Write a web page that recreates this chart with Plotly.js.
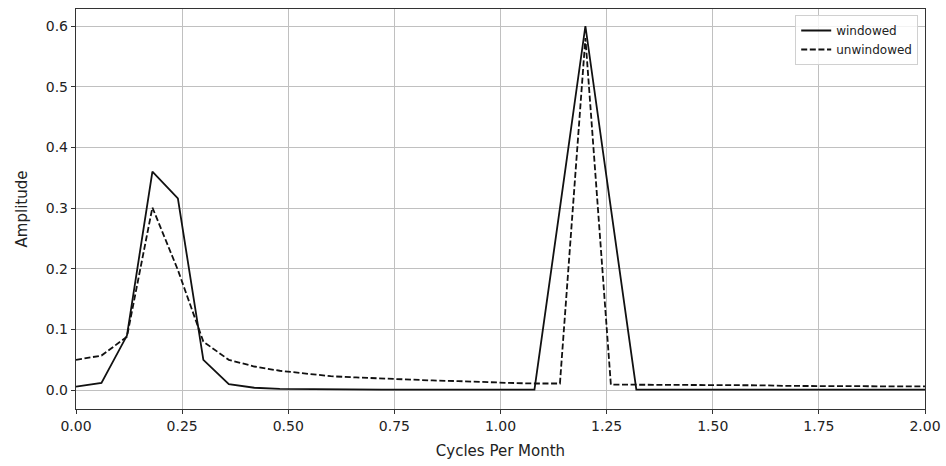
<!DOCTYPE html>
<html>
<head>
<meta charset="utf-8">
<script src="https://cdn.plot.ly/plotly-3.0.1.min.js"></script>
<style>html,body{margin:0;padding:0;background:#fff;}#chart{width:946px;height:466px;}</style>
</head>
<body>
<div id="chart"></div>
<script>
// Frequencies (cycles per month)
const freq = [0.00,0.06,0.12,0.18,0.24,0.30,0.36,0.42,0.48,0.54,0.60,0.66,0.72,0.78,0.84,0.90,0.96,1.02,1.08,1.14,1.20,1.26,1.32,1.38,1.44,1.50,1.56,1.62,1.68,1.74,1.80,1.86,1.92,1.98,2.04];
// Amplitude, windowed series
const windowed = [0.006,0.012,0.090,0.360,0.316,0.050,0.010,0.004,0.002,0.0015,0.001,0.001,0.001,0.001,0.001,0.001,0.001,0.001,0.001,0.300,0.600,0.300,0.001,0.001,0.001,0.001,0.001,0.001,0.001,0.001,0.001,0.001,0.001,0.001,0.001];
// Amplitude, unwindowed series
const unwindowed = [0.050,0.057,0.088,0.301,0.198,0.080,0.050,0.039,0.032,0.027,0.023,0.021,0.019,0.017,0.016,0.015,0.013,0.012,0.011,0.011,0.580,0.009,0.009,0.009,0.008,0.008,0.008,0.008,0.007,0.007,0.007,0.007,0.006,0.006,0.006];
const seriesNames = ["windowed","unwindowed"];
const xTicks = [0,0.25,0.5,0.75,1.0,1.25,1.5,1.75,2.0];
const yTicks = [0,0.1,0.2,0.3,0.4,0.5,0.6];

const font = "DejaVu Sans, sans-serif";
const traces = [
  {x: freq, y: windowed, name: seriesNames[0], mode: "lines", line: {color: "#111", width: 1.8}},
  {x: freq, y: unwindowed, name: seriesNames[1], mode: "lines", line: {color: "#111", width: 1.8, dash: "6px,2.6px"}}
];
const axisCommon = {
  showline: true, mirror: true, linecolor: "#333", linewidth: 1.2,
  ticks: "outside", ticklen: 4, tickwidth: 1, tickcolor: "#333",
  showgrid: true, gridcolor: "#c0c0c0", gridwidth: 1, zeroline: false,
  tickfont: {family: font, size: 14, color: "#222"}
};
const layout = {
  width: 946, height: 466,
  margin: {l: 76, r: 21, t: 9, b: 57},
  paper_bgcolor: "#fff", plot_bgcolor: "#fff",
  font: {family: font, color: "#222"},
  showlegend: true,
  legend: {x: 0.992, y: 0.985, xanchor: "right", yanchor: "top", bgcolor: "rgba(255,255,255,0.8)",
           bordercolor: "#d0d0d0", borderwidth: 1, font: {family: font, size: 12, color: "#222"},
           tracegroupgap: 0, itemwidth: 30},
  xaxis: Object.assign({}, axisCommon, {
    range: [0, 2], tickvals: xTicks, tickformat: ".2f",
    title: {text: "Cycles Per Month", font: {family: font, size: 15, color: "#222"}, standoff: 12}
  }),
  yaxis: Object.assign({}, axisCommon, {
    range: [-0.031, 0.628], tickvals: yTicks, tickformat: ".1f",
    title: {text: "Amplitude", font: {family: font, size: 15, color: "#222"}, standoff: 14}
  })
};
Plotly.newPlot("chart", traces, layout, {displayModeBar: false, staticPlot: true});
</script>
</body>
</html>
